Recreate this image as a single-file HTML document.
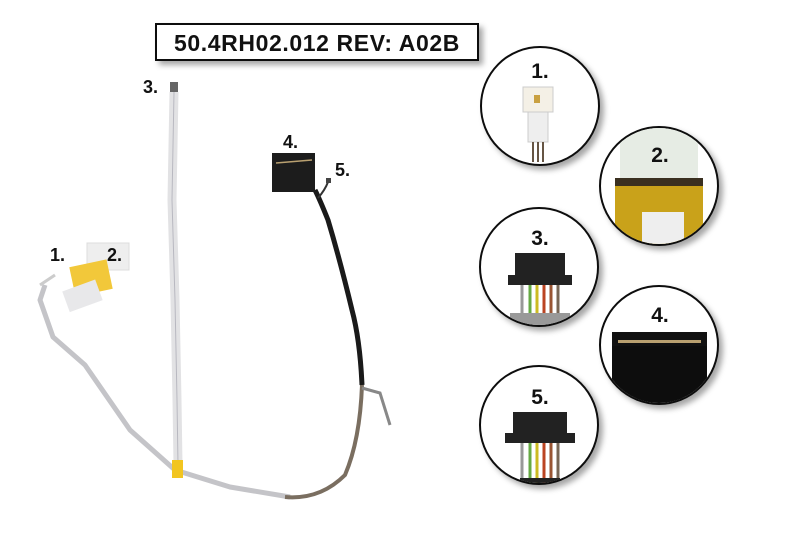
<!DOCTYPE html>
<html><head><style>
html,body{margin:0;padding:0;background:#fff;width:800px;height:533px;overflow:hidden}
svg{display:block}
text{font-family:"Liberation Sans",sans-serif;font-weight:bold}
</style></head><body>
<svg width="800" height="533" viewBox="0 0 800 533">
<defs>
<filter id="sh" x="-20%" y="-20%" width="150%" height="150%"><feDropShadow dx="4" dy="4" stdDeviation="3" flood-color="#000" flood-opacity="0.35"/></filter>
<clipPath id="c1"><circle cx="540" cy="106" r="58"/></clipPath>
<clipPath id="c2"><circle cx="659" cy="186" r="58"/></clipPath>
<clipPath id="c3"><circle cx="539" cy="267" r="58"/></clipPath>
<clipPath id="c4"><circle cx="659" cy="345" r="58"/></clipPath>
<clipPath id="c5"><circle cx="539" cy="425" r="58"/></clipPath>
</defs>
<!-- title -->
<rect x="156" y="24" width="322" height="36" fill="#fff" stroke="#111" stroke-width="2" filter="url(#sh)"/>
<text x="317" y="51" font-size="23" text-anchor="middle" fill="#111" letter-spacing="0.6">50.4RH02.012 REV: A02B</text>
<!-- flat cable 3 -->
<path d="M174 92 L172 200 L175 300 L177 400 L178 465" stroke="#e2e2e4" stroke-width="9" fill="none"/>
<path d="M174 92 L172 200 L175 300 L177 400 L178 465" stroke="#b8b8c0" stroke-width="1" fill="none"/>
<rect x="170" y="82" width="8" height="10" fill="#666"/>
<!-- main cable -->
<path d="M45 285 L40 300 L53 337 L85 365 L130 430 L175 470 L230 487 L290 497" stroke="#c4c4c8" stroke-width="5" fill="none" stroke-linejoin="round"/>
<path d="M285 497 Q320 500 345 475 Q360 440 362 385" stroke="#7a6e60" stroke-width="4" fill="none"/>
<path d="M362 385 Q360 340 352 310 Q340 260 328 220 Q320 200 315 190" stroke="#1a1a1a" stroke-width="5" fill="none"/>
<path d="M318 198 Q325 190 328 182" stroke="#333" stroke-width="2" fill="none"/>
<rect x="326" y="178" width="5" height="5" fill="#444"/>
<path d="M362 388 L380 393 L390 425" stroke="#888" stroke-width="3" fill="none"/>
<rect x="172" y="460" width="11" height="18" fill="#f2c520"/>
<!-- connector 4 -->
<rect x="272" y="153" width="43" height="39" fill="#1c1c1c"/>
<path d="M276 163 L312 160" stroke="#b9a070" stroke-width="1.5"/>
<!-- connector 1/2 -->
<rect x="87" y="243" width="42" height="27" fill="#eeeeee" stroke="#ddd"/>
<rect x="72" y="263" width="38" height="30" fill="#f2c83a" transform="rotate(-12 91 278)"/>
<rect x="65" y="285" width="35" height="22" fill="#e8e8ea" transform="rotate(-20 82 296)"/>
<path d="M40 285 L55 275" stroke="#ccc" stroke-width="3" fill="none"/>
<text x="143" y="93" font-size="18" fill="#111">3.</text>
<text x="50" y="261" font-size="18" fill="#111">1.</text>
<text x="107" y="261" font-size="18" fill="#111">2.</text>
<text x="283" y="148" font-size="18" fill="#111">4.</text>
<text x="335" y="176" font-size="18" fill="#111">5.</text>
<!-- circles -->
<g filter="url(#sh)">
<circle cx="540" cy="106" r="59" fill="#fff" stroke="#111" stroke-width="2"/>
<circle cx="659" cy="186" r="59" fill="#fff" stroke="#111" stroke-width="2"/>
<circle cx="539" cy="267" r="59" fill="#fff" stroke="#111" stroke-width="2"/>
<circle cx="659" cy="345" r="59" fill="#fff" stroke="#111" stroke-width="2"/>
<circle cx="539" cy="425" r="59" fill="#fff" stroke="#111" stroke-width="2"/>
</g>
<g clip-path="url(#c1)">
<rect x="523" y="87" width="30" height="25" fill="#f4f0e6" stroke="#ccc"/>
<rect x="528" y="112" width="20" height="30" fill="#eee" stroke="#ccc"/>
<rect x="534" y="95" width="6" height="8" fill="#c9a040"/>
<path d="M533 142 v20 M538 142 v20 M543 142 v20" stroke="#654" stroke-width="2"/>
</g>
<text x="540" y="78" font-size="21" text-anchor="middle" fill="#111">1.</text>
<g clip-path="url(#c2)">
<rect x="620" y="128" width="78" height="50" fill="#e6ece4"/>
<rect x="615" y="178" width="88" height="8" fill="#3a3020"/>
<rect x="615" y="186" width="88" height="60" fill="#c9a21a"/>
<rect x="642" y="212" width="42" height="40" fill="#eee"/>
</g>
<text x="660" y="162" font-size="21" text-anchor="middle" fill="#111">2.</text>
<g clip-path="url(#c3)">
<rect x="515" y="253" width="50" height="24" fill="#222"/>
<rect x="508" y="275" width="64" height="10" fill="#222"/>
<path d="M522 285v28" stroke="#999" stroke-width="3"/><path d="M530 285v28" stroke="#6a4" stroke-width="3"/><path d="M537 285v28" stroke="#cb2" stroke-width="3"/><path d="M544 285v28" stroke="#b42" stroke-width="3"/><path d="M551 285v28" stroke="#953" stroke-width="3"/><path d="M558 285v28" stroke="#765" stroke-width="3"/>
<rect x="510" y="313" width="60" height="15" fill="#999"/>
</g>
<text x="540" y="245" font-size="21" text-anchor="middle" fill="#111">3.</text>
<g clip-path="url(#c4)">
<rect x="612" y="332" width="95" height="14" fill="#111"/>
<rect x="612" y="346" width="95" height="60" fill="#0d0d0d"/>
<rect x="618" y="340" width="83" height="3" fill="#b9a070"/>
</g>
<text x="660" y="322" font-size="21" text-anchor="middle" fill="#111">4.</text>
<g clip-path="url(#c5)">
<rect x="513" y="412" width="54" height="24" fill="#222"/>
<rect x="505" y="433" width="70" height="10" fill="#222"/>
<path d="M522 443v40" stroke="#999" stroke-width="3"/><path d="M530 443v40" stroke="#6a4" stroke-width="3"/><path d="M537 443v40" stroke="#cb2" stroke-width="3"/><path d="M544 443v40" stroke="#b42" stroke-width="3"/><path d="M551 443v40" stroke="#953" stroke-width="3"/><path d="M558 443v40" stroke="#765" stroke-width="3"/>
<rect x="520" y="478" width="40" height="8" fill="#222"/>
</g>
<text x="540" y="404" font-size="21" text-anchor="middle" fill="#111">5.</text>
</svg>
</body></html>
